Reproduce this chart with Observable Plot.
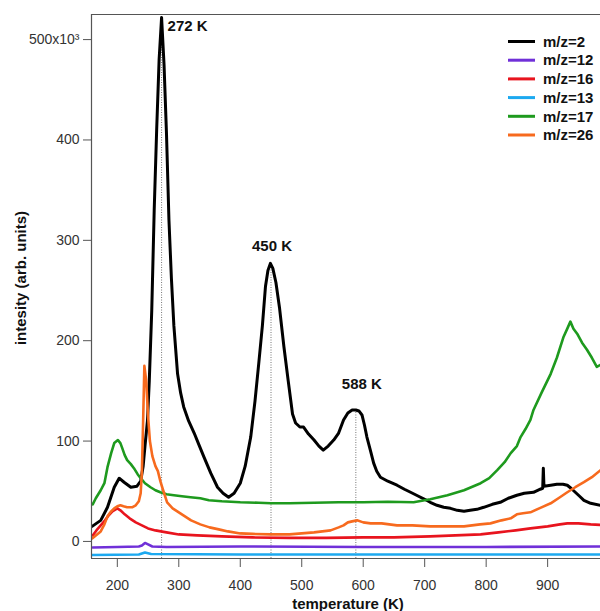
<!DOCTYPE html>
<html><head><meta charset="utf-8">
<script src="https://cdn.jsdelivr.net/npm/d3@7"></script>
<script src="https://cdn.jsdelivr.net/npm/@observablehq/plot@0.6"></script>
<style>
body{margin:0;background:#fff;}
#chart{position:relative;width:600px;height:611px;overflow:hidden;}
</style>
</head><body><div id="chart"></div>
<script>
// temperature (K), intensity (x10^3 arb. units)
const mz2 = [[159,15],[173,21],[184,34],[195,54],[203,63],[211,59],[222,54],[232,55],[238,60],[242,75],[245,95],[249,120],[252,160],[256,230],[260,330],[264,410],[268,480],[272,522],[276,475],[280,406],[284,320],[288,262],[292,215],[298,167],[303,148],[308,134],[316,120],[325,108],[333,96],[341,84],[352,68],[363,54],[372,48],[381,44],[390,48],[400,58],[408,75],[417,104],[424,140],[430,177],[436,215],[441,254],[445,270],[449,277],[453,272],[458,258],[464,232],[471,194],[478,160],[485,127],[490,118],[497,114],[503,114],[511,107],[520,101],[528,95],[535,91],[543,95],[552,101],[560,108],[568,121],[575,128],[582,131],[588,131],[593,130],[598,126],[602,116],[606,104],[612,90],[617,78],[622,70],[628,64],[640,60],[655,56],[667,52],[677,49],[690,45],[700,42],[709,39],[720,36],[731,34],[742,33],[753,31],[764,30],[774,31],[785,32],[796,34],[810,37],[823,39],[836,43],[850,46],[862,48],[877,49],[888,52],[892,53],[893,73],[894,55],[905,56],[915,57],[925,57],[932,56],[938,53],[945,49],[952,45],[959,41],[970,38],[986,36]];
const mz12 = [[160,-6],[200,-5.5],[235,-5],[240,-4],[245,-1.5],[250,-3],[257,-5],[280,-5.5],[400,-5],[600,-5.5],[800,-5.5],[986,-5]];
const mz16 = [[160,6],[166,11],[173,16],[180,21],[186,26],[192,30],[200,33],[205,31],[212,27],[220,23],[230,19],[240,16],[250,13],[262,11],[280,9],[300,7],[330,6],[370,5],[420,4],[480,3.5],[540,3.5],[600,4],[650,4],[709,5],[750,6],[791,7],[820,9],[848,11],[872,13],[900,15],[920,17],[932,18],[950,18],[970,17],[986,16.5]];
const mz13 = [[158,-13.5],[235,-13],[245,-11],[255,-12.5],[400,-13],[700,-13],[986,-13]];
const mz17 = [[160,37],[165,43],[173,51],[179,58],[184,74],[190,88],[195,98],[201,101],[205,98],[208,93],[212,86],[216,81],[222,77],[227,73],[233,67],[238,63],[245,58],[254,54],[262,51],[270,49],[280,47],[292,46],[305,45],[319,44],[335,43],[349,41],[370,40],[400,39],[430,38.5],[450,38],[480,38],[520,38.5],[560,39],[600,39],[640,39.5],[682,39],[709,42],[737,46],[764,51],[791,58],[805,63],[818,71],[830,79],[840,88],[850,95],[856,104],[864,112],[872,121],[877,131],[890,148],[905,167],[915,183],[926,204],[932,212],[937,219],[942,212],[948,207],[956,198],[964,191],[972,183],[980,174],[986,176]];
const mz26 = [[159,3],[165,6],[173,10],[179,17],[184,25],[190,30],[195,33],[200,35],[205,36],[210,35],[216,34],[224,34],[230,36],[235,40],[238,48],[240,70],[242,120],[244,175],[247,160],[250,125],[253,100],[257,85],[262,75],[266,70],[270,60],[274,52],[281,39],[290,33],[300,29],[310,25],[320,21],[335,17],[350,14],[365,12],[380,10],[400,8],[420,7.5],[450,7],[480,7],[500,8],[520,9],[547,11],[560,14],[568,16],[575,19],[582,20],[590,21],[600,19],[612,18],[630,18],[655,16],[680,16],[709,15],[740,15],[764,15],[790,17],[807,18],[825,21],[840,23],[850,27],[860,28],[872,29],[890,34],[905,38],[920,44],[932,49],[945,54],[959,59],[972,64],[986,71]];

const seriesNames = ["m/z=2","m/z=12","m/z=16","m/z=13","m/z=17","m/z=26"];
const seriesColors = ["#000000","#7030d8","#e8141e","#1ca9f0","#1e9a1e","#f76a1e"];
const seriesData = [mz2, mz12, mz16, mz13, mz17, mz26];
const peakTemps = [272, 450, 588];
const peakValues = [522, 277, 131];
const xTicks = [200,300,400,500,600,700,800,900];
const yTicks = [0,100,200,300,400,500];
const xDomain = [158, 986];
const yDomain = [-17, 525];

const peaks = peakTemps.map((t,i)=>({t, v: peakValues[i], label: `${t} K`}));
const lineMarks = seriesData.map((arr,i)=>Plot.line(arr.map(([t,v])=>({t,v})), {
  x:"t", y:"v", stroke: seriesColors[i], strokeWidth: i===0 ? 3 : 2.6, clip: true
}));

const grey = "#555";
const chart = Plot.plot({
  width: 600, height: 611,
  marginLeft: 91, marginRight: 0, marginTop: 14, marginBottom: 53,
  style: {fontFamily: "'Liberation Sans', Arial, sans-serif", fontSize: "13px", color: "#333", background: "#fff"},
  x: {domain: xDomain},
  y: {domain: yDomain},
  marks: [
    Plot.ruleX(peaks, {x:"t", y1: yDomain[0], y2:"v", stroke:"#666", strokeWidth: 0.9, strokeDasharray:"1,1.5"}),
    ...lineMarks,
    Plot.ruleX([xDomain[0]], {stroke: grey, strokeWidth: 1.2}),
    Plot.ruleY([yDomain[0], yDomain[1]], {stroke: grey, strokeWidth: 1.2}),
    Plot.axisY(yTicks, {tickSize: 8, tickPadding: 4, label: null, stroke: grey, fontSize: 14,
      tickFormat: d => d === 500 ? "500x10³" : String(d)}),
    Plot.axisX(xTicks, {tickSize: 9, tickPadding: 13, label: null, stroke: grey, fontSize: 14}),
    Plot.text([peaks[0]], {x:"t", y:"v", text:"label", textAnchor:"start", dx: 6, dy: 9, fontWeight:"bold", fontSize: 15, fill:"#111"}),
    Plot.text([peaks[1]], {x:"t", y:"v", text:"label", textAnchor:"middle", dx: 1, dy: -17, fontWeight:"bold", fontSize: 15, fill:"#111"}),
    Plot.text([peaks[2]], {x:"t", y:"v", text:"label", textAnchor:"middle", dx: 6, dy: -26, fontWeight:"bold", fontSize: 15, fill:"#111"})
  ]
});
document.getElementById("chart").appendChild(chart);

const svg = d3.select(chart);
// axis titles
svg.append("text").attr("x", 348).attr("y", 609).attr("text-anchor","middle")
  .attr("font-weight","bold").attr("font-size", 15).attr("fill","#111").text("temperature (K)");
svg.append("text").attr("transform","translate(26,278) rotate(-90)").attr("text-anchor","middle")
  .attr("font-weight","bold").attr("font-size", 15).attr("fill","#111").text("intesity (arb. units)");
// legend
const lg = svg.append("g");
seriesNames.forEach((name,i)=>{
  const y = 41.5 + i*18.7;
  lg.append("line").attr("x1",508).attr("x2",535).attr("y1",y).attr("y2",y)
    .attr("stroke",seriesColors[i]).attr("stroke-width",3);
  lg.append("text").attr("x",543).attr("y",y).attr("dy","0.35em").attr("text-anchor","start")
    .attr("font-weight","bold").attr("font-size",15).attr("fill","#111").text(name);
});
</script>
</body></html>
